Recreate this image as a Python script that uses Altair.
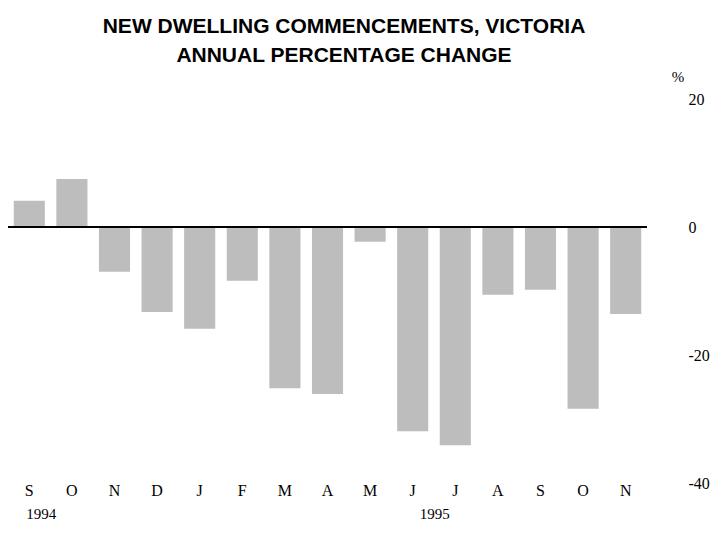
import altair as alt
import pandas as pd

months = ["S", "O", "N", "D", "J", "F", "M", "A", "M", "J", "J", "A", "S", "O", "N"]
years = [1994, 1994, 1994, 1994, 1995, 1995, 1995, 1995, 1995, 1995, 1995, 1995, 1995, 1995, 1995]
values = [4.1, 7.5, -7.0, -13.3, -15.9, -8.4, -25.2, -26.1, -2.3, -31.9, -34.1, -10.6, -9.8, -28.4, -13.6]
y_ticks = [20, 0, -20, -40]
title_lines = ["NEW DWELLING COMMENCEMENTS, VICTORIA", "ANNUAL PERCENTAGE CHANGE"]

# unique keys (months repeat within the period)
seen = {}
ukeys = []
for m, y in zip(months, years):
    k = f"{m}-{y}"
    seen[k] = seen.get(k, 0) + 1
    ukeys.append(k if seen[k] == 1 else f"{k}#{seen[k]}")

df = pd.DataFrame({"key": ukeys, "value": values})

xscale = alt.Scale(domain=ukeys, paddingInner=0.27, paddingOuter=0.135)
yscale = alt.Scale(domain=[-40, 20], nice=False, zero=False)

bars = alt.Chart(df).mark_bar(color="#bdbdbd").encode(
    x=alt.X("key:N", scale=xscale, sort=ukeys,
            axis=alt.Axis(title=None, orient="bottom", domain=False, ticks=False,
                          labelAngle=0, labelExpr="slice(datum.value, 0, 1)",
                          labelFont="Liberation Serif", labelFontSize=16,
                          labelColor="#000000", labelPadding=7, labelBaseline="middle")),
    y=alt.Y("value:Q", scale=yscale,
            axis=alt.Axis(title=None, orient="right", values=y_ticks, grid=False,
                          domain=False, ticks=False, labelFont="Liberation Serif",
                          labelExpr="'' + datum.value",
                          labelFontSize=16, labelColor="#000000", labelPadding=41,
                          labelAlign="left", labelBaseline="middle")),
)

zero = alt.Chart(pd.DataFrame({"y": [0]})).mark_rule(color="#000000", strokeWidth=2).encode(
    y=alt.Y("y:Q", scale=yscale)
)

yr94 = alt.Chart(pd.DataFrame({"key": [ukeys[0]], "label": ["1994"]})).mark_text(
    font="Liberation Serif", fontSize=15, color="#000000", dx=12, baseline="middle"
).encode(x=alt.X("key:N", scale=xscale, sort=ukeys), y=alt.value(415), text="label:N")

yr95 = alt.Chart(pd.DataFrame({"key": [ukeys[9]], "label": ["1995"]})).mark_text(
    font="Liberation Serif", fontSize=15, color="#000000", dx=22, baseline="middle"
).encode(x=alt.X("key:N", scale=xscale, sort=ukeys), y=alt.value(415), text="label:N")

pct = alt.Chart(pd.DataFrame({"t": ["%"]})).mark_text(
    font="Liberation Serif", fontSize=15, color="#000000", baseline="middle"
).encode(x=alt.value(670), y=alt.value(-22), text="t:N")

title1 = alt.Chart(pd.DataFrame({"t": [title_lines[0]]})).mark_text(
    font="Liberation Sans", fontSize=21, fontWeight=900, color="#000000", baseline="middle"
).encode(x=alt.value(336), y=alt.value(-72), text="t:N")

title2 = alt.Chart(pd.DataFrame({"t": [title_lines[1]]})).mark_text(
    font="Liberation Sans", fontSize=21, fontWeight=900, color="#000000", baseline="middle"
).encode(x=alt.value(336), y=alt.value(-43), text="t:N")

chart = alt.layer(bars, zero, yr94, yr95, pct, title1, title2).properties(
    width=639,
    height=384,
    padding={"left": 0, "top": 91, "right": 66, "bottom": 40},
    autosize=alt.AutoSizeParams(type="none"),
).configure_view(stroke=None).configure_axis(labelOverlap=False)

chart.save("out.html", embed_options={"renderer": "svg", "actions": False})
